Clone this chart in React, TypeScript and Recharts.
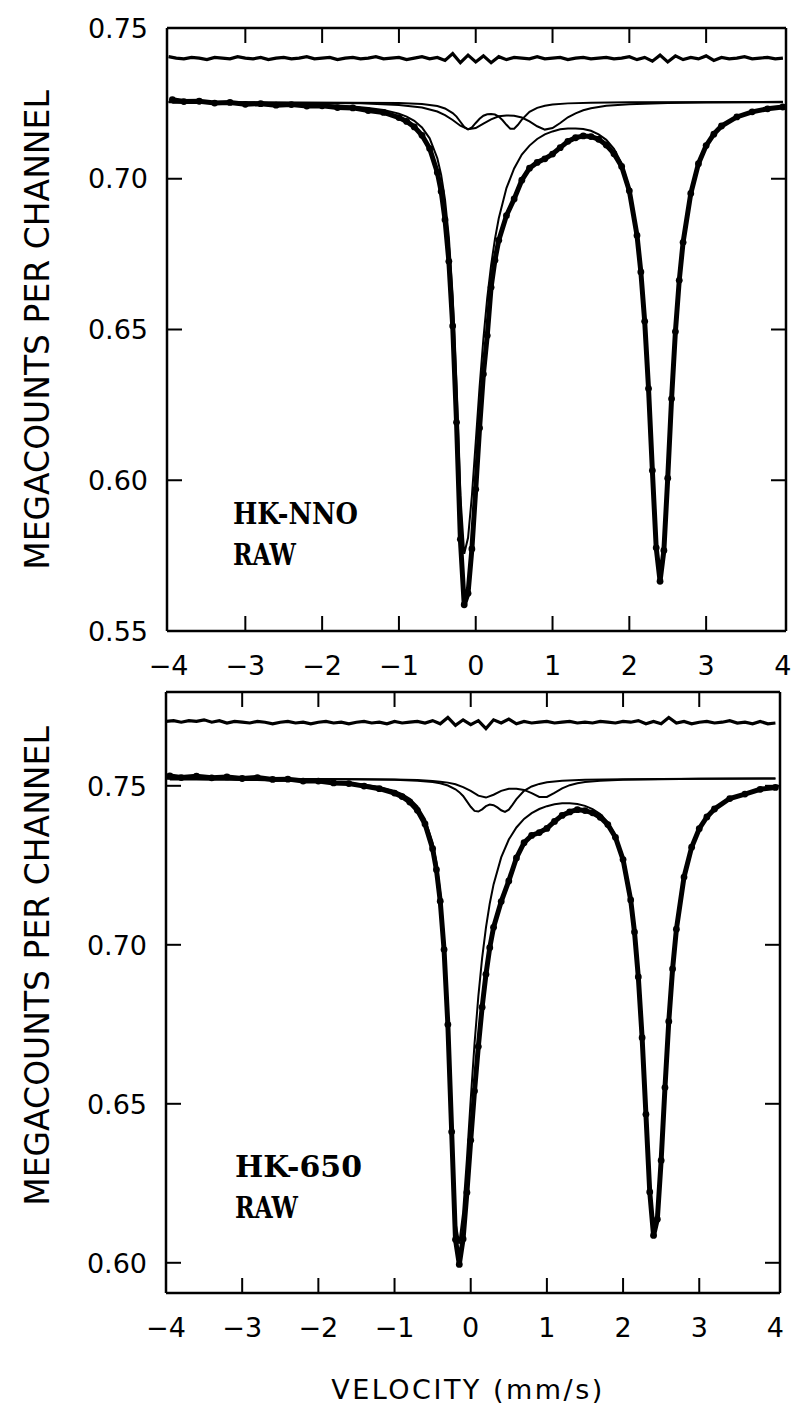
import React from 'react';
import { LineChart, Line, XAxis, YAxis, ReferenceLine } from 'recharts';

// ---------- shared velocity grid (mm/s) for spectra ----------
const velocity = [-3.95,-3.8,-3.6,-3.4,-3.2,-3.0,-2.8,-2.6,-2.4,-2.2,-2.0,-1.8,-1.6,-1.4,-1.2,-1.0,
  -0.9,-0.8,-0.7,-0.6,-0.5,
  -0.45,-0.4,-0.35,-0.3,-0.25,-0.2,-0.15,-0.1,-0.05,
  0.0,0.05,0.1,0.15,0.2,0.25,0.3,
  0.4,0.5,0.6,0.7,0.8,0.9,1.0,1.1,1.2,1.3,1.4,1.5,1.6,1.7,1.8,1.9,2.0,
  2.1,2.15,2.2,2.25,2.3,2.35,2.4,2.45,2.5,2.55,2.6,2.65,2.7,
  2.8,2.9,3.0,3.1,3.2,
  3.4,3.6,3.8,4.0];

const residualVelocity = [-4.0,-3.9,-3.8,-3.7,-3.6,-3.5,-3.4,-3.3,-3.2,-3.1,-3.0,-2.9,-2.8,-2.7,-2.6,-2.5,-2.4,-2.3,-2.2,-2.1,
  -2.0,-1.9,-1.8,-1.7,-1.6,-1.5,-1.4,-1.3,-1.2,-1.1,-1.0,-0.9,-0.8,-0.7,-0.6,-0.5,-0.4,-0.3,-0.2,-0.1,
  0.0,0.1,0.2,0.3,0.4,0.5,0.6,0.7,0.8,0.9,1.0,1.1,1.2,1.3,1.4,1.5,1.6,1.7,1.8,1.9,
  2.0,2.1,2.2,2.3,2.4,2.5,2.6,2.7,2.8,2.9,3.0,3.1,3.2,3.3,3.4,3.5,3.6,3.7,3.8,3.9,4.0];

// ---------- HK-NNO (top panel) ----------
const nnoData = [0.7262,0.7256,0.7257,0.7251,0.7253,0.7247,0.7249,0.7244,0.7246,0.7241,0.7242,0.7236,0.7235,0.7226,0.7220,0.7203,
  0.7190,0.7172,0.7144,0.7100,0.7021,
  0.6958,0.6864,0.6726,0.6512,0.6192,0.5804,0.5587,0.5625,0.5772,
  0.5970,0.6173,0.6352,0.6480,0.6640,0.6730,0.6796,
  0.6878,0.6933,0.6995,0.7035,0.7054,0.7066,0.7082,0.7103,0.7124,0.7136,0.7142,0.7140,0.7131,0.7112,0.7083,0.7041,0.6960,
  0.6812,0.6691,0.6527,0.6304,0.6032,0.5776,0.5665,0.5767,0.6007,0.6270,0.6493,0.6663,0.6789,
  0.6951,0.7050,0.7110,0.7148,0.7175,
  0.7205,0.7222,0.7232,0.7238];

const nnoMajor = [0.7252,0.7252,0.7251,0.7251,0.7250,0.7250,0.7249,0.7248,0.7247,0.7246,0.7245,0.7243,0.7240,0.7235,0.7228,0.7216,
  0.7206,0.7192,0.7170,0.7134,0.7068,
  0.7013,0.6931,0.6806,0.6609,0.6312,0.5949,0.5756,0.5809,0.5948,
  0.6127,0.6309,0.6470,0.6605,0.6713,0.6800,0.6869,
  0.6969,0.7034,0.7080,0.7110,0.7132,0.7147,0.7157,0.7164,0.7167,0.7167,0.7165,0.7159,0.7147,0.7129,0.7099,0.7051,0.6969,
  0.6820,0.6700,0.6535,0.6311,0.6039,0.5781,0.5670,0.5772,0.6011,0.6274,0.6497,0.6667,0.6793,
  0.6954,0.7050,0.7112,0.7150,0.7176,
  0.7206,0.7223,0.7233,0.7240];

const nnoCompAVel = [-4,-1.0,-0.7,-0.5,-0.4,-0.3,-0.25,-0.2,-0.15,-0.1,-0.05,0,0.05,0.1,0.15,0.2,0.25,0.3,0.35,0.4,0.45,0.5,0.55,0.6,0.7,0.8,0.9,1.0,1.2,1.5,2.0,4.0];
const nnoCompA = [0.7255,0.7251,0.7248,0.7241,0.7233,0.7218,0.7206,0.7189,0.7172,0.7164,0.7170,0.7185,0.7199,0.7209,0.7214,0.7215,0.7213,0.7206,0.7194,0.7179,0.7166,0.7166,0.7179,0.7196,0.7222,0.7235,0.7242,0.7246,0.7250,0.7252,0.7254,0.7255];

const nnoCompBVel = [-4,-1.5,-1.0,-0.7,-0.5,-0.4,-0.3,-0.2,-0.1,0,0.1,0.2,0.3,0.4,0.5,0.6,0.7,0.8,0.9,1.0,1.1,1.2,1.3,1.4,1.5,1.7,2.0,2.5,3.0,4.0];
const nnoCompB = [0.7254,0.7250,0.7245,0.7236,0.7223,0.7211,0.7195,0.7176,0.7164,0.7168,0.7183,0.7197,0.7207,0.7210,0.7209,0.7203,0.7190,0.7174,0.7163,0.7168,0.7185,0.7204,0.7217,0.7227,0.7234,0.7242,0.7247,0.7251,0.7253,0.7254];

const nnoResidual = [0.74050,0.74000,0.73975,0.74025,0.74000,0.73950,0.74025,0.74000,0.73975,0.74050,
  0.74000,0.73975,0.74025,0.73950,0.74000,0.74025,0.73975,0.74000,0.74050,0.73975,
  0.74000,0.74025,0.73950,0.74000,0.74025,0.73975,0.74000,0.74050,0.73975,0.74000,
  0.74025,0.73950,0.74000,0.74050,0.73975,0.74025,0.73925,0.74150,0.73850,0.74100,
  0.73875,0.74075,0.73850,0.74050,0.73950,0.74025,0.74000,0.73975,0.74050,0.73975,
  0.74000,0.74025,0.73950,0.74000,0.74025,0.73975,0.74000,0.74025,0.73975,0.74000,
  0.74050,0.73950,0.74025,0.73900,0.74100,0.73875,0.74075,0.73950,0.74025,0.73975,
  0.74075,0.73925,0.74025,0.73975,0.74000,0.74050,0.73975,0.74000,0.74025,0.73975,0.74000];

// ---------- HK-650 (bottom panel) ----------
const h650Data = [0.7531,0.7526,0.7530,0.7525,0.7528,0.7523,0.7526,0.7520,0.7521,0.7515,0.7515,0.7509,0.7507,0.7499,0.7491,0.7477,
  0.7466,0.7449,0.7423,0.7380,0.7302,
  0.7236,0.7137,0.6985,0.6749,0.6412,0.6073,0.5995,0.6075,0.6221,
  0.6385,0.6540,0.6680,0.6804,0.6907,0.6991,0.7055,
  0.7136,0.7201,0.7273,0.7321,0.7344,0.7353,0.7366,0.7388,0.7407,0.7418,0.7425,0.7422,0.7415,0.7401,0.7378,0.7338,0.7268,
  0.7141,0.7040,0.6899,0.6708,0.6467,0.6223,0.6086,0.6137,0.6322,0.6551,0.6759,0.6924,0.7049,
  0.7213,0.7307,0.7365,0.7402,0.7427,
  0.7460,0.7474,0.7489,0.7495];

const h650Major = [0.7520,0.7520,0.7520,0.7519,0.7519,0.7518,0.7518,0.7517,0.7516,0.7515,0.7513,0.7511,0.7508,0.7504,0.7496,0.7484,
  0.7474,0.7459,0.7435,0.7395,0.7321,
  0.7258,0.7163,0.7015,0.6784,0.6454,0.6126,0.6060,0.6157,0.6325,
  0.6513,0.6689,0.6838,0.6959,0.7054,0.7130,0.7190,
  0.7275,0.7331,0.7369,0.7396,0.7414,0.7427,0.7436,0.7442,0.7445,0.7445,0.7443,0.7437,0.7427,0.7411,0.7386,0.7344,0.7274,
  0.7146,0.7045,0.6904,0.6712,0.6471,0.6227,0.6090,0.6140,0.6326,0.6555,0.6762,0.6927,0.7052,
  0.7216,0.7310,0.7367,0.7404,0.7429,
  0.7460,0.7477,0.7488,0.7495];

const h650CompAVel = [-4,-1.5,-1.0,-0.7,-0.5,-0.4,-0.3,-0.2,-0.15,-0.1,-0.05,0,0.05,0.1,0.15,0.2,0.25,0.3,0.35,0.4,0.45,0.5,0.55,0.6,0.7,0.8,0.9,1.0,1.2,1.5,2.0,3.0,4.0];
const h650CompA = [0.7523,0.7521,0.7519,0.7516,0.7512,0.7508,0.7501,0.7489,0.7480,0.7468,0.7451,0.7434,0.7421,0.7419,0.7426,0.7436,0.7441,0.7439,0.7432,0.7423,0.7418,0.7425,0.7441,0.7458,0.7484,0.7498,0.7506,0.7511,0.7516,0.7519,0.7521,0.7522,0.7523];

const h650CompBVel = [-4,-1.5,-1.0,-0.7,-0.5,-0.4,-0.3,-0.2,-0.1,0,0.1,0.2,0.3,0.4,0.5,0.6,0.7,0.8,0.9,1.0,1.1,1.2,1.3,1.4,1.5,1.7,2.0,2.5,3.0,4.0];
const h650CompB = [0.7523,0.7521,0.7520,0.7518,0.7515,0.7513,0.7510,0.7505,0.7496,0.7484,0.7469,0.7463,0.7472,0.7484,0.7491,0.7491,0.7487,0.7477,0.7465,0.7465,0.7478,0.7492,0.7502,0.7508,0.7512,0.7516,0.7519,0.7521,0.7522,0.7523];

const h650Residual = [0.77025,0.77050,0.77000,0.77050,0.77025,0.77075,0.77000,0.77050,0.76975,0.77025,
  0.77000,0.76975,0.77025,0.77000,0.76950,0.77000,0.77025,0.76975,0.77000,0.76950,
  0.77000,0.77025,0.76975,0.77000,0.76950,0.77000,0.77025,0.76975,0.77000,0.76950,
  0.77025,0.76975,0.77000,0.77025,0.76975,0.77050,0.76950,0.77150,0.76900,0.77075,
  0.76925,0.77050,0.76800,0.77075,0.76975,0.77100,0.76950,0.77025,0.76975,0.77000,
  0.77025,0.76975,0.77000,0.77025,0.76975,0.77000,0.76975,0.77025,0.77000,0.76975,
  0.77025,0.77000,0.77050,0.76950,0.77025,0.76950,0.77150,0.76975,0.77025,0.76950,
  0.77000,0.77025,0.76975,0.77000,0.77050,0.76975,0.77000,0.76950,0.77025,0.76950,0.76975];

// ---------- axis ticks ----------
const xTicks = [-4, -3, -2, -1, 0, 1, 2, 3, 4];
const yTicksTop = [0.55, 0.60, 0.65, 0.70, 0.75];
const yTicksBottom = [0.60, 0.65, 0.70, 0.75];

const zip = (xs: number[], ys: number[]) => xs.map((x, i) => ({ x, y: ys[i] }));

const SANS = "'DejaVu Sans', sans-serif";
const SERIF = "'DejaVu Serif', serif";
const TICK_LEN = 15;

const makeXTick = (plotH: number) => (props: any) => {
  const { x, y, payload } = props;
  const v = payload.value as number;
  const inner = Math.abs(v) < 3.99;
  const label = v < 0 ? '\u2212' + Math.abs(v) : String(v);
  return (
    <g>
      {inner && <line x1={x} x2={x} y1={y} y2={y - TICK_LEN} stroke="#000" strokeWidth={2} />}
      {inner && <line x1={x} x2={x} y1={y - plotH} y2={y - plotH + TICK_LEN} stroke="#000" strokeWidth={2} />}
      <text x={x} y={y + 44} textAnchor="middle" fontFamily={SANS} fontSize={27} fill="#000">{label}</text>
    </g>
  );
};

const makeYTick = (plotW: number, edges: number[]) => (props: any) => {
  const { x, y, payload } = props;
  const v = payload.value as number;
  const inner = !edges.includes(v);
  return (
    <g>
      {inner && <line x1={x} x2={x + TICK_LEN} y1={y} y2={y} stroke="#000" strokeWidth={2} />}
      {inner && <line x1={x + plotW} x2={x + plotW - TICK_LEN} y1={y} y2={y} stroke="#000" strokeWidth={2} />}
      <text x={x - 19} y={y} dy="0.36em" textAnchor="end" fontFamily={SANS} fontSize={27} fill="#000">{v.toFixed(2)}</text>
    </g>
  );
};

type PanelProps = {
  top: number;
  height: number;
  margin: { top: number; right: number; bottom: number; left: number };
  xDomain: [number, number];
  yDomain: [number, number];
  yTicks: number[];
  yEdges: number[];
  plotW: number;
  plotH: number;
  data: number[];
  major: number[];
  aVel: number[];
  a: number[];
  bVel: number[];
  b: number[];
  residual: number[];
};

function Panel(p: PanelProps) {
  return (
    <div style={{ position: 'absolute', left: 0, top: p.top, width: 794, height: p.height }}>
      <LineChart width={794} height={p.height} margin={p.margin}>
        <XAxis xAxisId="v" type="number" dataKey="x" domain={p.xDomain} ticks={xTicks} interval={0}
          allowDataOverflow tickLine={false} tickSize={0} tickMargin={0} height={30}
          axisLine={{ stroke: '#000', strokeWidth: 2.5 }} tick={makeXTick(p.plotH)} />
        <YAxis yAxisId="c" type="number" domain={p.yDomain} ticks={p.yTicks} interval={0}
          allowDataOverflow tickLine={false} tickSize={0} tickMargin={0} width={60}
          axisLine={{ stroke: '#000', strokeWidth: 2.5 }} tick={makeYTick(p.plotW, p.yEdges)} />
        <ReferenceLine xAxisId="v" yAxisId="c" y={p.yDomain[1]} stroke="#000" strokeWidth={2.5} />
        <ReferenceLine xAxisId="v" yAxisId="c" x={p.xDomain[1]} stroke="#000" strokeWidth={2.5} />
        <Line xAxisId="v" yAxisId="c" data={zip(p.aVel, p.a)} dataKey="y" type="linear" stroke="#000" strokeWidth={2} dot={false} isAnimationActive={false} />
        <Line xAxisId="v" yAxisId="c" data={zip(p.bVel, p.b)} dataKey="y" type="linear" stroke="#000" strokeWidth={2} dot={false} isAnimationActive={false} />
        <Line xAxisId="v" yAxisId="c" data={zip(velocity, p.major)} dataKey="y" type="linear" stroke="#000" strokeWidth={2} dot={false} isAnimationActive={false} />
        <Line xAxisId="v" yAxisId="c" data={zip(velocity, p.data)} dataKey="y" type="linear" stroke="#000" strokeWidth={5}
          dot={{ r: 3.4, fill: '#000', stroke: 'none' }} isAnimationActive={false} />
        <Line xAxisId="v" yAxisId="c" data={zip(residualVelocity, p.residual)} dataKey="y" type="linear" stroke="#000" strokeWidth={3.2} dot={false} isAnimationActive={false} />
      </LineChart>
    </div>
  );
}

const sampleText = (x: number, y: number, s: string, w: number) => (
  <text x={x} y={y} fontFamily={SERIF} fontWeight="bold" fontSize={30} fill="#000"
    textLength={w} lengthAdjust="spacingAndGlyphs">{s}</text>
);

export default function App() {
  return (
    <div style={{ position: 'absolute', left: 0, top: 0, width: 794, height: 1410, background: '#fff', overflow: 'hidden' }}>
      <Panel top={0} height={684}
        margin={{ top: 28, right: 8, bottom: 684 - 631 - 30, left: 167 - 60 }}
        xDomain={[-4.02, 4.04]} yDomain={[0.55, 0.75]} yTicks={yTicksTop} yEdges={[0.55, 0.75]}
        plotW={619} plotH={603}
        data={nnoData} major={nnoMajor} aVel={nnoCompAVel} a={nnoCompA} bVel={nnoCompBVel} b={nnoCompB} residual={nnoResidual} />
      <Panel top={684} height={726}
        margin={{ top: 8, right: 14, bottom: 726 - 609 - 30, left: 166 - 60 }}
        xDomain={[-4.0, 4.06]} yDomain={[0.5905, 0.7795]} yTicks={yTicksBottom} yEdges={[]}
        plotW={614} plotH={601}
        data={h650Data} major={h650Major} aVel={h650CompAVel} a={h650CompA} bVel={h650CompBVel} b={h650CompB} residual={h650Residual} />
      <svg width={794} height={1410} style={{ position: 'absolute', left: 0, top: 0, pointerEvents: 'none' }}>
        <text transform="translate(37,330) rotate(-90)" textAnchor="middle" dy="0.36em" fontFamily={SANS} fontSize={33} fill="#000">MEGACOUNTS PER CHANNEL</text>
        <text transform="translate(37,966) rotate(-90)" textAnchor="middle" dy="0.36em" fontFamily={SANS} fontSize={33} fill="#000">MEGACOUNTS PER CHANNEL</text>
        <text x={468} y={1399} textAnchor="middle" fontFamily={SANS} fontSize={27} letterSpacing={2.5} fill="#000">VELOCITY (mm/s)</text>
        {sampleText(233, 524, 'HK-NNO', 125)}
        {sampleText(233, 565, 'RAW', 63)}
        {sampleText(235, 1177, 'HK-650', 127)}
        {sampleText(235, 1218, 'RAW', 63)}
      </svg>
    </div>
  );
}
